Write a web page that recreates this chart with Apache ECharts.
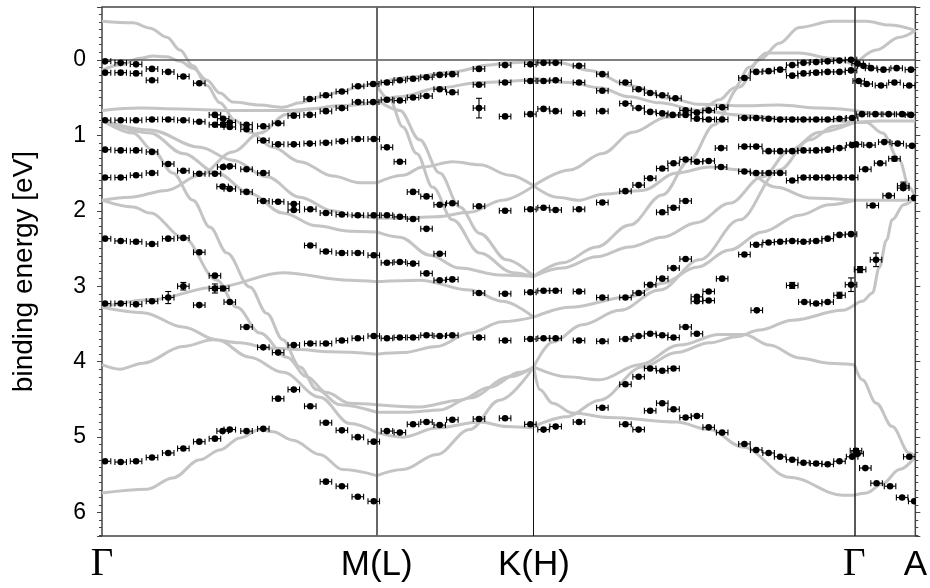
<!DOCTYPE html>
<html>
<head>
<meta charset="utf-8">
<script src="https://cdn.jsdelivr.net/npm/echarts@6/dist/echarts.min.js"></script>
<style>
  html, body { margin: 0; padding: 0; background: #fff; }
  #chart { width: 930px; height: 588px; }
</style>
</head>
<body>
<div id="chart"></div>
<script>
// High-symmetry path: positions along k (Γ–M distance = 1) and their labels
const pathPositions = [0, 1, 1.572, 2.738, 2.96];
const pathLabels = ['Γ', 'M(L)', 'K(H)', 'Γ', 'A'];

// Energy window of the plot (binding energy, eV)
const energyMin = -0.7;
const energyMax = 6.31;

// Half-width of the momentum error bar on every measured point
const kErr = 0.021;

// Measured band positions [k, E] — Γ → M
const pointsGM = [
  [0.011,0.02],[0.068,0.04],[0.124,0.06],[0.182,0.12],[0.241,0.16],[0.296,0.22],[0.354,0.31],
  [0.011,0.17],[0.068,0.17],[0.124,0.18],[0.182,0.27],
  [0.011,0.80],[0.068,0.80],[0.124,0.80],[0.182,0.79],[0.241,0.79],[0.296,0.80],[0.354,0.82],
  [0.411,0.73],[0.411,0.86],[0.441,0.78],[0.441,0.86],[0.465,0.83],[0.465,0.89],[0.526,0.86],[0.526,0.92],
  [0.587,0.88],[0.641,0.84],[0.698,0.74],[0.756,0.73],[0.815,0.68],[0.873,0.64],[0.932,0.56],[0.987,0.56],
  [0.756,0.52],[0.815,0.47],[0.873,0.42],[0.932,0.35],[0.987,0.32],
  [0.587,1.07],[0.641,1.12],[0.698,1.12],[0.756,1.11],[0.815,1.10],[0.873,1.08],[0.931,1.05],[0.989,1.05],
  [0.011,1.19],[0.068,1.20],[0.124,1.20],[0.182,1.22],[0.241,1.38],[0.296,1.47],[0.354,1.51],[0.411,1.51],
  [0.441,1.42],[0.465,1.41],[0.526,1.45],[0.587,1.50],
  [0.011,1.56],[0.068,1.56],[0.124,1.53],[0.182,1.50],[0.439,1.68],[0.465,1.71],[0.526,1.75],[0.587,1.87],
  [0.641,1.88],[0.698,1.91],[0.698,1.99],[0.758,1.98],[0.815,2.03],[0.873,2.05],[0.931,2.06],[0.989,2.06],
  [0.011,2.37],[0.068,2.40],[0.124,2.41],[0.182,2.44],[0.241,2.37],[0.296,2.36],[0.354,2.55],[0.411,2.86],[0.465,3.21],
  [0.758,2.46],[0.815,2.54],[0.873,2.56],[0.931,2.56],[0.989,2.59],
  [0.441,3.03],[0.011,3.23],[0.068,3.23],[0.124,3.24],[0.182,3.20],[0.354,3.25],
  [0.526,3.54],[0.587,3.81],[0.641,3.88],[0.698,3.78],[0.758,3.76],[0.815,3.76],[0.873,3.72],[0.931,3.69],[0.989,3.66],
  [0.641,4.49],[0.698,4.37],[0.758,4.59],[0.815,4.81],[0.873,4.91],[0.931,5.00],[0.989,5.06],
  [0.011,5.32],[0.068,5.33],[0.124,5.32],[0.182,5.27],[0.241,5.21],[0.296,5.15],[0.354,5.06],[0.411,5.02],
  [0.439,4.92],[0.465,4.90],[0.526,4.92],[0.587,4.89],
  [0.815,5.59],[0.873,5.65],[0.931,5.79],[0.989,5.85]
];

// Measured band positions [k, E] — M → K
const pointsMK = [
  [1.037,0.30],[1.084,0.27],[1.132,0.25],[1.181,0.23],[1.229,0.20],[1.275,0.19],[1.372,0.12],[1.467,0.07],[1.559,0.06],
  [1.037,0.53],[1.084,0.54],[1.132,0.50],[1.181,0.48],[1.229,0.39],[1.275,0.43],[1.372,0.33],[1.467,0.30],[1.559,0.28],
  [1.467,0.75],[1.559,0.72],
  [1.037,1.16],[1.084,1.35],[1.132,1.75],[1.181,1.81],[1.229,1.92],[1.275,1.90],[1.372,1.94],[1.467,2.00],[1.559,1.98],
  [1.037,2.06],[1.084,2.08],[1.132,2.11],[1.181,2.24],
  [1.037,2.69],[1.084,2.68],[1.132,2.70],[1.181,2.83],[1.229,2.92],[1.275,2.91],[1.229,2.57],
  [1.372,3.09],[1.467,3.10],[1.559,3.08],
  [1.037,3.69],[1.084,3.68],[1.132,3.68],[1.181,3.65],[1.229,3.66],[1.275,3.65],[1.372,3.68],[1.467,3.72],[1.559,3.70],
  [1.037,4.92],[1.084,4.94],[1.132,4.83],[1.181,4.80],[1.229,4.84],[1.275,4.77],[1.372,4.76],[1.467,4.75],[1.559,4.83]
];

// Measured band positions [k, E] — K → Γ
const pointsKG = [
  [1.607,0.04],[1.651,0.04],[1.736,0.08],[1.821,0.19],[1.905,0.30],[1.953,0.39],[1.995,0.44],[2.039,0.47],[2.087,0.51],
  [1.607,0.28],[1.651,0.27],[1.736,0.30],[1.821,0.41],[1.905,0.58],[1.953,0.64],[1.995,0.69],[2.039,0.71],
  [2.077,0.73],[2.124,0.73],[2.165,0.78],[2.208,0.79],[2.257,0.79],
  [1.607,0.65],[1.651,0.68],[1.736,0.71],[1.821,0.68],[2.124,0.67],[2.165,0.70],[2.208,0.67],[2.257,0.63],
  [2.338,0.77],[2.381,0.77],[2.426,0.78],[2.468,0.79],[2.512,0.79],[2.553,0.79],[2.599,0.79],[2.641,0.79],[2.684,0.78],[2.730,0.77],
  [2.338,0.24],[2.381,0.16],[2.426,0.15],[2.468,0.13],[2.512,0.07],[2.553,0.04],[2.599,0.03],[2.641,0.02],[2.684,0.01],[2.726,0.00],
  [2.512,0.21],[2.553,0.18],[2.599,0.17],[2.641,0.16],[2.684,0.16],[2.726,0.14],
  [2.253,1.17],[2.338,1.15],[2.381,1.15],[2.426,1.21],[2.468,1.21],[2.512,1.21],[2.553,1.20],[2.599,1.20],[2.641,1.19],[2.684,1.17],[2.730,1.13],
  [2.253,1.42],[2.338,1.48],[2.381,1.50],[2.426,1.50],[2.468,1.50],[2.512,1.60],[2.553,1.56],[2.599,1.56],[2.641,1.56],[2.684,1.56],[2.730,1.56],
  [1.607,1.96],[1.651,1.99],[1.736,1.98],[1.821,1.89],[1.905,1.74],[1.953,1.66],[1.995,1.57],[2.039,1.44],
  [2.080,1.37],[2.124,1.32],[2.165,1.35],[2.208,1.34],
  [2.039,2.02],[2.080,1.96],[2.124,1.87],
  [1.607,3.06],[1.651,3.06],[1.736,3.07],[1.821,3.15],[1.905,3.15],[1.953,3.09],[1.995,2.98],[2.039,2.90],[2.080,2.76],[2.124,2.64],
  [2.257,2.90],[2.338,2.58],[2.381,2.45],[2.426,2.42],[2.468,2.41],[2.512,2.40],[2.553,2.41],[2.599,2.40],[2.641,2.37],[2.684,2.32],[2.726,2.31],
  [2.165,3.14],[2.165,3.20],[2.208,3.07],[2.208,3.19],[2.383,3.32],[2.556,3.21],[2.599,3.23],[2.641,3.21],
  [1.607,3.69],[1.651,3.69],[1.736,3.72],[1.821,3.73],[1.905,3.70],[1.953,3.66],[1.995,3.63],[2.039,3.65],[2.080,3.68],[2.124,3.54],[2.165,3.63],
  [1.905,4.30],[1.953,4.20],[1.995,4.09],[2.039,4.12],[2.080,4.09],
  [1.607,4.90],[1.651,4.86],[1.736,4.80],[1.821,4.61],[1.905,4.83],[1.953,4.90],[1.995,4.65],[2.039,4.55],[2.080,4.63],
  [2.124,4.74],[2.165,4.72],[2.208,4.87],[2.257,4.94],[2.338,5.09],[2.381,5.17],[2.426,5.21],[2.468,5.26],[2.512,5.30],
  [2.553,5.34],[2.599,5.35],[2.641,5.36],[2.684,5.32],[2.730,5.26]
];

// Measured band positions [k, E] — Γ → A
const pointsGA = [
  [2.750,5.22],[2.778,5.41],[2.819,5.61],[2.868,5.65],[2.912,5.80],[2.956,5.85],[2.938,5.26],
  [2.750,0.05],[2.771,0.08],[2.799,0.11],[2.844,0.13],[2.892,0.11],[2.944,0.13],
  [2.754,0.28],[2.783,0.32],[2.835,0.34],[2.884,0.30],[2.938,0.34],
  [2.766,0.72],[2.815,0.72],[2.863,0.72],[2.912,0.72],[2.944,0.73],
  [2.744,1.12],[2.793,1.13],[2.847,1.09],[2.896,1.11],[2.948,1.14],
  [2.778,1.45],[2.832,1.37],[2.916,1.70],[2.863,1.80],[2.805,1.93],[2.956,1.83]
];

// Points that also carry an energy error bar [k, E, dE]
const pointsWithEnergyErr = [
  [0.296,3.00,0.05],[0.411,3.03,0.06],[0.241,3.15,0.08],[1.372,0.64,0.13],
  [2.512,2.99,0.04],[2.684,3.12,0.04],[2.726,2.98,0.09],[2.759,2.78,0.04],
  [2.817,2.65,0.09],[2.884,1.31,0.03],[2.916,1.67,0.05],[2.744,5.18,0.03]
];

// Calculated bands [k, E] — Γ → M
const theoryGM = [
  [[0,-0.51],[0.113,-0.49],[0.175,-0.42],[0.236,-0.30],[0.284,-0.13],[0.331,0.08],[0.382,0.34],[0.429,0.57],[0.484,0.80],[0.538,0.96],[0.622,1.16],[0.720,1.35],[0.840,1.54],[0.938,1.63],[1.0,1.63]],
  [[0,0.14],[0.065,0.07],[0.138,-0.02],[0.185,-0.05],[0.236,-0.04],[0.284,0.02],[0.331,0.11],[0.382,0.27],[0.429,0.44],[0.476,0.56],[0.575,0.60],[0.658,0.63],[0.720,0.57],[0.793,0.49],[0.865,0.43],[0.938,0.35],[1.0,0.31]],
  [[0,0.67],[0.138,0.64],[0.284,0.65],[0.465,0.67],[0.611,0.67],[0.684,0.67],[0.756,0.65],[0.865,0.61],[1.0,0.56]],
  [[0,1.86],[0.102,1.82],[0.236,1.73],[0.356,1.53],[0.476,1.22],[0.575,0.97],[0.673,0.72],[0.756,0.65],[0.865,0.61],[1.0,0.56]],
  [[0,0.80],[0.175,0.93],[0.356,1.16],[0.476,1.33],[0.600,1.55],[0.720,1.82],[0.840,2.00],[0.920,2.07],[1.0,2.10]],
  [[0,0.80],[0.175,0.97],[0.295,1.24],[0.418,1.50],[0.538,1.77],[0.658,2.03],[0.782,2.20],[0.902,2.27],[1.0,2.28]],
  [[0,0.80],[0.113,0.97],[0.185,1.20],[0.258,1.50],[0.331,1.86],[0.393,2.22],[0.455,2.56],[0.538,3.01],[0.600,3.36],[0.658,3.71],[0.720,4.07],[0.782,4.37],[0.865,4.57],[1.0,4.67]],
  [[0,1.86],[0.113,1.95],[0.175,2.03],[0.295,2.35],[0.418,2.92],[0.491,3.28],[0.575,3.62],[0.673,3.94],[0.745,4.20],[0.818,4.41],[0.902,4.55],[1.0,4.57]],
  [[0,3.28],[0.175,3.18],[0.418,3.01],[0.658,2.82],[0.902,2.92],[1.0,2.94]],
  [[0,3.28],[0.149,3.35],[0.295,3.54],[0.418,3.71],[0.538,3.94],[0.658,4.14],[0.793,4.47],[0.902,4.82],[1.0,4.94]],
  [[0,4.04],[0.065,4.10],[0.149,4.02],[0.295,3.80],[0.404,3.71],[0.502,3.75],[0.611,3.82],[0.720,3.84],[0.829,3.87],[1.0,3.90]],
  [[0,5.74],[0.164,5.69],[0.258,5.54],[0.356,5.30],[0.429,5.17],[0.502,5.01],[0.575,4.90],[0.622,4.93],[0.695,5.04],[0.793,5.23],[0.876,5.43],[1.0,5.51]]
];

// Calculated bands [k, E] — M → K
const theoryMK = [
  [[1.0,0.31],[1.120,0.23],[1.276,0.16],[1.411,0.07],[1.473,0.04],[1.571,0.02]],
  [[1.0,0.56],[1.084,0.49],[1.229,0.37],[1.375,0.30],[1.571,0.26]],
  [[1.0,0.34],[1.047,0.53],[1.095,0.89],[1.145,1.24],[1.204,1.69],[1.276,2.12],[1.375,2.56],[1.495,2.82],[1.571,2.87]],
  [[1.0,0.53],[1.084,0.67],[1.156,1.06],[1.229,1.50],[1.302,1.95],[1.375,2.30],[1.473,2.65],[1.571,2.87]],
  [[1.0,1.63],[1.095,1.53],[1.167,1.42],[1.276,1.35],[1.375,1.39],[1.484,1.53],[1.571,1.67]],
  [[1.0,2.10],[1.073,2.10],[1.218,2.08],[1.338,2.02],[1.458,1.86],[1.571,1.67]],
  [[1.0,2.28],[1.084,2.35],[1.193,2.59],[1.302,2.76],[1.447,2.85],[1.571,2.87]],
  [[1.0,2.94],[1.156,2.92],[1.338,3.05],[1.458,3.20],[1.571,3.41]],
  [[1.0,3.90],[1.095,3.88],[1.218,3.80],[1.338,3.62],[1.458,3.47],[1.571,3.41]],
  [[1.0,4.57],[1.156,4.60],[1.302,4.51],[1.411,4.34],[1.520,4.14],[1.571,4.07]],
  [[1.0,4.67],[1.120,4.67],[1.229,4.64],[1.338,4.48],[1.484,4.20],[1.571,4.07]],
  [[1.0,4.94],[1.095,5.00],[1.218,4.88],[1.375,4.80],[1.473,4.86],[1.571,4.88]],
  [[1.0,5.51],[1.095,5.43],[1.218,5.23],[1.338,4.90],[1.447,4.51],[1.571,4.07]]
];

// Calculated bands [k, E] — K → Γ
const theoryKG = [
  [[1.571,0.02],[1.665,0.04],[1.775,0.14],[1.920,0.34],[2.065,0.51],[2.175,0.59],[2.320,0.61],[2.465,0.60],[2.611,0.64],[2.738,0.67]],
  [[1.571,0.24],[1.702,0.30],[1.811,0.37],[1.920,0.49],[2.029,0.57],[2.175,0.67],[2.320,0.73],[2.465,0.77],[2.611,0.80],[2.738,0.83]],
  [[1.571,1.67],[1.702,1.46],[1.822,1.24],[1.931,0.96],[2.055,0.76],[2.175,0.67],[2.247,0.53],[2.302,0.37],[2.356,0.10],[2.418,-0.09],[2.538,-0.09],[2.658,-0.02],[2.738,0.07]],
  [[1.571,1.67],[1.655,1.82],[1.738,1.86],[1.822,1.78],[1.967,1.73],[2.091,1.50],[2.211,1.42],[2.331,1.46],[2.455,1.69],[2.575,1.83],[2.738,1.86]],
  [[1.571,2.87],[1.676,2.69],[1.800,2.48],[1.920,2.19],[2.040,1.79],[2.138,1.33],[2.229,0.86],[2.320,0.36],[2.393,0.00],[2.465,-0.22],[2.538,-0.43],[2.658,-0.51],[2.738,-0.51]],
  [[1.571,2.87],[1.676,2.76],[1.800,2.61],[1.920,2.48],[2.040,2.35],[2.164,2.16],[2.284,1.90],[2.404,1.55],[2.502,1.20],[2.611,0.96],[2.738,0.83]],
  [[1.571,3.41],[1.702,3.28],[1.920,3.14],[2.040,2.96],[2.164,2.75],[2.284,2.52],[2.404,2.28],[2.538,2.06],[2.647,1.92],[2.738,1.86]],
  [[1.571,4.07],[1.640,3.74],[1.749,3.51],[1.884,3.32],[2.029,3.05],[2.175,2.65],[2.320,2.12],[2.465,1.46],[2.575,1.06],[2.665,0.88],[2.738,0.83]],
  [[1.571,4.86],[1.691,4.73],[1.811,4.51],[1.967,4.07],[2.091,3.88],[2.211,3.75],[2.309,3.67],[2.393,3.58],[2.513,3.45],[2.695,3.32],[2.738,3.25]],
  [[1.571,4.07],[1.691,4.20],[1.811,4.24],[1.956,4.04],[2.102,3.78],[2.247,3.64],[2.338,3.64],[2.429,3.78],[2.538,3.95],[2.647,4.02],[2.738,4.04]],
  [[1.571,4.07],[1.593,4.37],[1.640,4.55],[1.713,4.68],[1.847,4.74],[2.091,4.80],[2.211,4.90],[2.331,5.13],[2.502,5.53],[2.695,5.77],[2.738,5.77]]
];

// Calculated bands [k, E] — Γ → A
const theoryGA = [
  [[2.738,-0.51],[2.782,-0.51],[2.865,-0.46],[2.96,-0.39]],
  [[2.738,0.07],[2.818,-0.13],[2.902,-0.30],[2.96,-0.39]],
  [[2.738,0.67],[2.829,0.71],[2.96,0.73]],
  [[2.738,0.83],[2.829,0.81],[2.96,0.81]],
  [[2.738,0.83],[2.782,0.83],[2.840,0.97],[2.902,1.33],[2.938,1.69],[2.96,1.83]],
  [[2.738,1.86],[2.85,1.86],[2.96,1.86]],
  [[2.738,3.25],[2.767,3.20],[2.804,3.09],[2.829,2.75],[2.855,2.39],[2.876,2.12],[2.918,1.92],[2.96,1.83]],
  [[2.738,4.04],[2.767,4.24],[2.818,4.55],[2.876,4.86],[2.938,5.21],[2.96,5.26]],
  [[2.738,5.77],[2.782,5.74],[2.840,5.62],[2.902,5.43],[2.96,5.26]]
];

const chart = echarts.init(document.getElementById('chart'), null, { renderer: 'canvas' });

const sansFont = '"Liberation Sans", Arial, Helvetica, sans-serif';
const serifFont = '"Liberation Serif", "DejaVu Serif", serif';
const curveColor = '#c4c4c4';

// Grey calculated bands, one line series per band branch
const curveSeries = [].concat(theoryGM, theoryMK, theoryKG, theoryGA).map((band, i) => ({
  type: 'line',
  name: 'calc' + i,
  data: band,
  showSymbol: false,
  smooth: 0.35,
  smoothMonotone: 'x',
  silent: true,
  clip: true,
  z: 2,
  lineStyle: { color: curveColor, width: 3 },
  animation: false
}));

// Reference lines: E = 0 and the interior high-symmetry points
const refLines = {
  type: 'line',
  data: [],
  silent: true,
  z: 3,
  animation: false,
  markLine: {
    silent: true,
    symbol: ['none', 'none'],
    label: { show: false },
    animation: false,
    data: [
      { yAxis: 0, lineStyle: { color: '#555', width: 1.5, type: 'solid' } },
      { xAxis: pathPositions[1], lineStyle: { color: '#666', width: 2, type: 'solid' } },
      { xAxis: pathPositions[2], lineStyle: { color: '#111', width: 1, type: 'solid' } },
      { xAxis: pathPositions[3], lineStyle: { color: '#222', width: 1.5, type: 'solid' } }
    ]
  }
};

// Measured points: dot with horizontal (k) error bar, optional energy error bar
function renderPoint(params, api) {
  const k = api.value(0);
  const e = api.value(1);
  const de = api.value(2);
  const c = api.coord([k, e]);
  const l = api.coord([k - kErr, e]);
  const r = api.coord([k + kErr, e]);
  const stroke = { stroke: '#000', lineWidth: 1.1 };
  const cap = 3;
  const children = [
    { type: 'line', shape: { x1: l[0], y1: c[1], x2: r[0], y2: c[1] }, style: stroke },
    { type: 'line', shape: { x1: l[0], y1: c[1] - cap, x2: l[0], y2: c[1] + cap }, style: stroke },
    { type: 'line', shape: { x1: r[0], y1: c[1] - cap, x2: r[0], y2: c[1] + cap }, style: stroke }
  ];
  if (de && !isNaN(de)) {
    const t = api.coord([k, e - de]);
    const b = api.coord([k, e + de]);
    children.push(
      { type: 'line', shape: { x1: c[0], y1: t[1], x2: c[0], y2: b[1] }, style: stroke },
      { type: 'line', shape: { x1: c[0] - cap, y1: t[1], x2: c[0] + cap, y2: t[1] }, style: stroke },
      { type: 'line', shape: { x1: c[0] - cap, y1: b[1], x2: c[0] + cap, y2: b[1] }, style: stroke }
    );
  }
  children.push({ type: 'circle', shape: { cx: c[0], cy: c[1], r: 3.3 }, style: { fill: '#000' } });
  return { type: 'group', children: children };
}

const pointSeries = [pointsGM, pointsMK, pointsKG, pointsGA, pointsWithEnergyErr].map((pts, i) => ({
  type: 'custom',
  name: 'arpes' + i,
  data: pts,
  renderItem: renderPoint,
  encode: { x: 0, y: 1 },
  clip: true,
  silent: true,
  z: 5,
  animation: false
}));

function pathLabel(v) {
  let best = 0;
  for (let i = 1; i < pathPositions.length; i++) {
    if (Math.abs(pathPositions[i] - v) < Math.abs(pathPositions[best] - v)) best = i;
  }
  const name = pathLabels[best];
  return name === 'Γ' ? '{g|' + name + '}' : '{s|' + name + '}';
}

const energyAxisBase = {
  type: 'value',
  inverse: true,
  min: energyMin,
  max: energyMax,
  splitNumber: 7,
  splitLine: { show: false },
  axisLine: { show: false },
  axisTick: { show: true, inside: false, length: 5, lineStyle: { color: '#444', width: 1 } },
  minorTick: { show: true, splitNumber: 10, length: 3, lineStyle: { color: '#444', width: 1 } }
};

chart.setOption({
  backgroundColor: '#fff',
  animation: false,
  grid: {
    left: 102, right: 14, top: 7, bottom: 52,
    show: true, borderColor: '#444', borderWidth: 1.5, backgroundColor: 'transparent'
  },
  xAxis: {
    type: 'value',
    min: pathPositions[0],
    max: pathPositions[pathPositions.length - 1],
    splitLine: { show: false },
    axisLine: { show: false },
    axisTick: { show: false },
    axisLabel: {
      customValues: pathPositions,
      showMinLabel: true,
      showMaxLabel: true,
      margin: 10,
      formatter: pathLabel,
      rich: {
        g: { fontFamily: serifFont, fontSize: 39, lineHeight: 38, color: '#000' },
        s: { fontFamily: sansFont, fontSize: 35, lineHeight: 38, color: '#000' }
      }
    }
  },
  yAxis: [
    Object.assign({}, energyAxisBase, {
      position: 'left',
      name: 'binding energy [eV]',
      nameLocation: 'middle',
      nameGap: 64,
      nameTextStyle: { fontFamily: sansFont, fontSize: 28, color: '#000' },
      axisLabel: {
        show: true, margin: 16, showMinLabel: false, showMaxLabel: false,
        fontFamily: sansFont, fontSize: 23, color: '#000'
      }
    }),
    Object.assign({}, energyAxisBase, {
      position: 'right',
      axisLabel: { show: false }
    })
  ],
  series: curveSeries.concat([refLines], pointSeries)
});
</script>
</body>
</html>
